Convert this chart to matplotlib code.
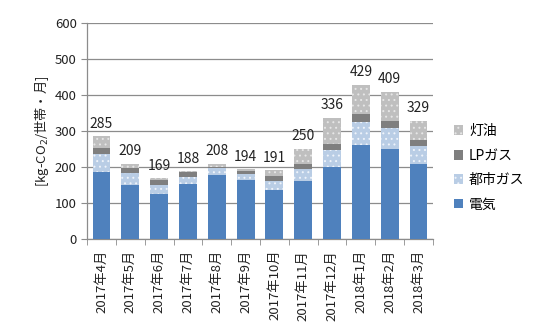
import matplotlib
matplotlib.use("Agg")
import matplotlib.pyplot as plt
import numpy as np

plt.rcParams['font.family'] = ['Noto Sans CJK JP', 'DejaVu Sans']
plt.rcParams['hatch.linewidth'] = 0.7

months = ["2017年4月", "2017年5月", "2017年6月", "2017年7月", "2017年8月", "2017年9月",
          "2017年10月", "2017年11月", "2017年12月", "2018年1月", "2018年2月", "2018年3月"]
electricity = [187, 149, 124, 152, 178, 164, 136, 160, 200, 260, 249, 207]
city_gas = [48, 33, 25, 21, 18, 15, 26, 34, 47, 66, 59, 51]
lp_gas = [17, 15, 15, 12, 4, 10, 13, 14, 17, 20, 20, 18]
kerosene = [33, 12, 5, 3, 8, 5, 16, 42, 72, 83, 81, 53]
totals = [285, 209, 169, 188, 208, 194, 191, 250, 336, 429, 409, 329]

fig = plt.figure(figsize=(5.55, 3.29), dpi=100)
ax = fig.add_axes([0.157, 0.274, 0.623, 0.656])

x = np.arange(len(months))
w = 0.62
b1 = np.array(electricity, dtype=float)
b2 = b1 + np.array(city_gas)
b3 = b2 + np.array(lp_gas)

h_el = ax.bar(x, electricity, w, color='#4F81BD', linewidth=0, zorder=3)
h_cg = ax.bar(x, city_gas, w, bottom=b1, color='#B9CDE5', edgecolor='#EEF3FA',
              hatch='...', linewidth=0, zorder=3)
h_lp = ax.bar(x, lp_gas, w, bottom=b2, color='#7F7F7F', linewidth=0, zorder=3)
h_ke = ax.bar(x, kerosene, w, bottom=b3, color='#BFBFBF', edgecolor='#E6E6E6',
              hatch='...', linewidth=0, zorder=3)

for xi, t in zip(x, totals):
    ax.annotate(str(t), (xi, t), xytext=(0, 4), textcoords='offset points',
                ha='center', va='bottom', fontsize=10, color='#222222')

ax.set_xlim(-0.5, len(months) - 0.5)
ax.set_ylim(0, 600)
ax.set_yticks(range(0, 601, 100))
ax.yaxis.grid(True, color='#8C8C8C', linewidth=0.9, zorder=0)
ax.set_axisbelow(True)

ax.set_xticks(x)
ax.set_xticklabels(months, rotation=90, fontsize=9.5, color='#222222')
ax.set_xticks(np.arange(-0.5, len(months)), minor=True)
ax.tick_params(axis='x', which='major', length=0, pad=8)
ax.tick_params(axis='x', which='minor', length=4, color='#8C8C8C', direction='out')
ax.tick_params(axis='y', length=4, color='#8C8C8C', labelsize=9.5, labelcolor='#222222')

for s in ['top', 'right']:
    ax.spines[s].set_visible(False)
for s in ['left', 'bottom']:
    ax.spines[s].set_color('#8C8C8C')
    ax.spines[s].set_linewidth(0.9)

ax.set_ylabel('[kg-CO$_2$/世帯・月]', fontsize=9.5, color='#222222', labelpad=3)

leg = fig.legend([h_ke, h_lp, h_cg, h_el], ['灯油', 'LPガス', '都市ガス', '電気'],
                 loc='center left', bbox_to_anchor=(0.795, 0.49), frameon=False,
                 fontsize=10, handlelength=0.7, handleheight=0.7, handletextpad=0.4,
                 labelspacing=0.75)

fig.savefig('out.png', dpi=100, facecolor='white')
